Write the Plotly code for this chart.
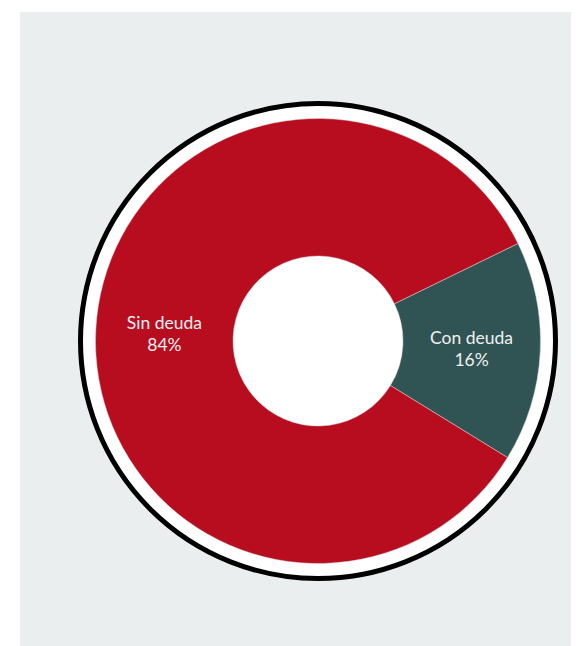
import plotly.graph_objects as go

labels = ["Con deuda", "Sin deuda"]
values = [16, 84]
colors = ["#2F5453", "#B80C1F"]

# figure fills the window minus the page's 8px body margin
W, H = 571, 638
cx, cy = 310, 333          # pixel centre (from top of figure)
r_pie = 222.5
r_ring = 237.5
cyb = H - cy

fig = go.Figure()
fig.add_trace(go.Pie(
    labels=labels,
    values=values,
    sort=False,
    direction="clockwise",
    rotation=64,
    hole=0.382,
    marker=dict(colors=colors, line=dict(color="#d9d9d9", width=0.5)),
    texttemplate="%{label}<br>%{value}%",
    textposition="inside",
    insidetextorientation="horizontal",
    textfont=dict(family="Lato", size=17.5, color="#f0f0f0"),
    hoverinfo="skip",
    showlegend=False,
    domain=dict(x=[(cx - r_pie) / W, (cx + r_pie) / W],
                y=[(cyb - r_pie) / H, (cyb + r_pie) / H]),
))

fig.update_layout(
    width=W, height=H,
    margin=dict(l=0, r=0, t=0, b=0),
    paper_bgcolor="white",
    shapes=[
        dict(type="rect", xref="paper", yref="paper", layer="below",
             x0=12 / W, x1=1, y0=0, y1=(H - 4) / H,
             fillcolor="#EAEEEF", line=dict(width=0)),
        dict(type="circle", xref="paper", yref="paper", layer="below",
             x0=(cx - r_ring) / W, x1=(cx + r_ring) / W,
             y0=(cyb - r_ring) / H, y1=(cyb + r_ring) / H,
             fillcolor="white", line=dict(color="black", width=5)),
    ],
)

fig.write_html("out.html")
